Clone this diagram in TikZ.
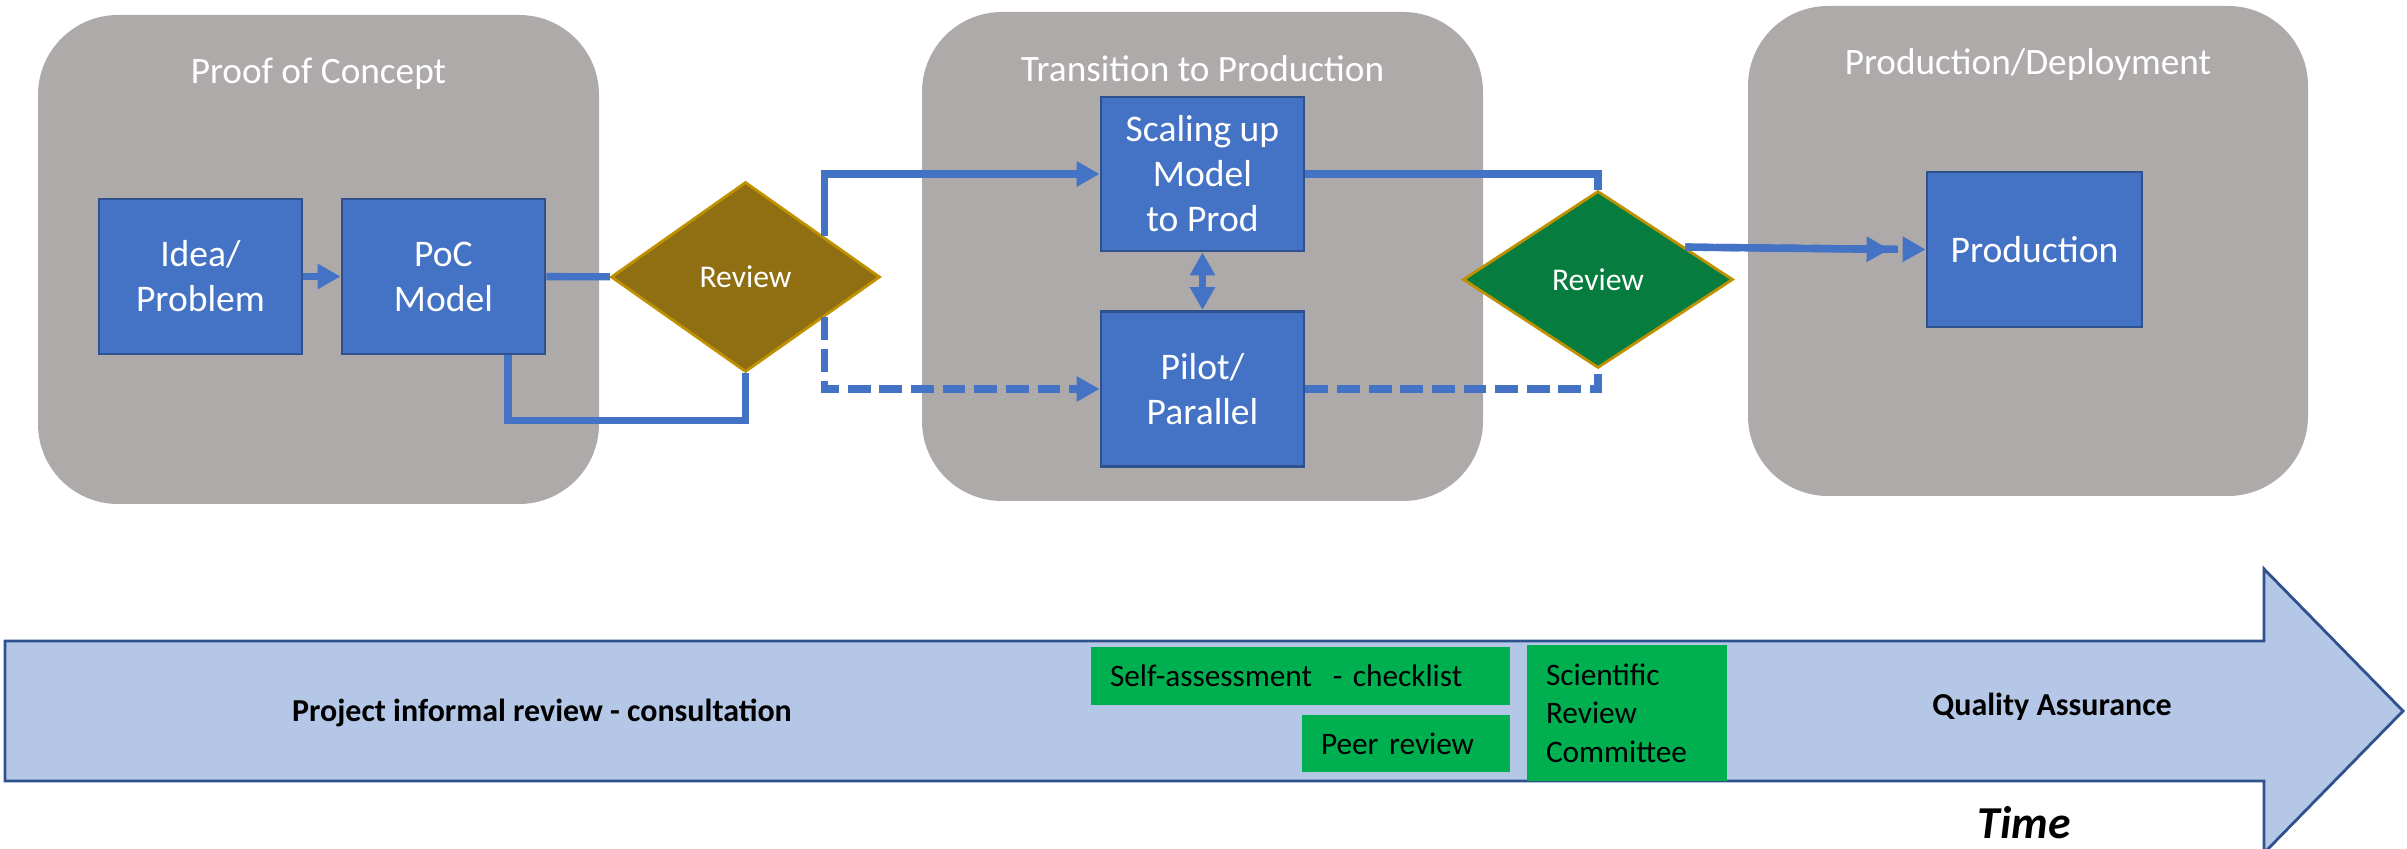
\documentclass[tikz,border=0pt]{standalone}
\usepackage{fontspec}
\setmainfont{Carlito}
\usepackage{tikz}
\usetikzlibrary{positioning,arrows.meta,shapes.geometric,calc}

\definecolor{StageGray}{HTML}{AEAAAA}
\definecolor{BoxBlue}{HTML}{4472C4}
\definecolor{BoxEdge}{HTML}{2F528F}
\definecolor{ReviewBrown}{HTML}{8F6F12}
\definecolor{ReviewGreen}{HTML}{067D3E}
\definecolor{ReviewEdge}{HTML}{BF9000}
\definecolor{TimeBlue}{HTML}{B4C7E7}
\definecolor{QAGreen}{HTML}{00B050}

\tikzset{
    stage/.style={fill=StageGray, rounded corners=0.8cm, minimum width=5.61cm, minimum height=4.89cm},
    stagetitle/.style={text=white, anchor=base, font=\fontsize{10.6}{12.7}\selectfont},
    block/.style={fill=BoxBlue, draw=BoxEdge, line width=0.8pt, text=white, align=center,
                  minimum width=2.03cm, minimum height=1.55cm, font=\fontsize{10.7}{12.8}\selectfont},
    review/.style={diamond, draw=ReviewEdge, line width=0.8pt, text=white, inner sep=0pt,
                   font=\fontsize{9}{11}\selectfont},
    link/.style={draw=BoxBlue, line width=2.1pt},
    flow/.style={link, -{Triangle[length=2.3mm,width=2.4mm]}},
    both/.style={link, {Triangle[length=2.3mm,width=2.4mm]}-{Triangle[length=2.3mm,width=2.4mm]}},
    dashline/.style={dash pattern=on 6.5pt off 2.5pt},
    timeline/.style={fill=TimeBlue, draw=BoxEdge, line width=0.8pt},
    check/.style={fill=QAGreen, inner xsep=0.19cm, inner ysep=0pt, align=left, minimum height=0.58cm,
                  font=\fontsize{8.9}{10.9}\selectfont},
    boldtext/.style={font=\fontsize{9.1}{11}\selectfont\bfseries}
}

\begin{document}
\begin{tikzpicture}
                \useasboundingbox (0,0) rectangle (24.07,8.49);

                \node[stage] (S1) at (3.185,5.895)  {};
                \node[stage] (S2) at (12.025,5.925) {};
                \node[stage, minimum width=5.60cm, minimum height=4.90cm] (S3) at (20.28,5.98) {};

                \node[stagetitle] (T1) at ([yshift=-0.69cm]S1.north) {Proof of Concept};
                \node[stagetitle] (T2) at ([yshift=-0.70cm]S2.north) {Transition to Production};
                \node[stagetitle] (T3) at ([yshift=-0.69cm]S3.north) {Production/Deployment};

                \node[block] (idea)  at (2.005,5.725)  {Idea/\\Problem};
                \node[block] (poc)   at (4.435,5.725)  {PoC\\Model};
                \node[block, minimum height=1.54cm] (scale) at (12.025,6.75) {Scaling up\\Model\\to Prod};
                \node[block] (pilot) at (12.025,4.60)  {Pilot/\\Parallel};
                \node[block, minimum width=2.15cm] (prod) at (20.345,5.995) {Production};

                \node[review, fill=ReviewBrown, minimum width=2.69cm, minimum height=1.90cm] (rev1) at (7.455,5.72) {Review};
                \node[review, fill=ReviewGreen, minimum width=2.70cm, minimum height=1.77cm] (rev2) at (15.98,5.695) {Review};

                \draw[flow] (idea) -- (poc);
                \draw[link] (poc) -- (rev1);
                \draw[link] (rev1.south) -- ++(0,-0.47) -| ([xshift=0.645cm]poc.south);
                \draw[flow] ($(rev1.east)!0.42!(rev1.north)$) |- (scale);
                \draw[flow, dashline] ($(rev1.east)!0.42!(rev1.south)$) |- (pilot);
                \draw[both] (scale) -- (pilot);
                \draw[link] (scale) -| (rev2);
                \draw[link, dashline] (pilot) -| (rev2);
                \draw[flow, dashline] ($(rev2.east)!0.36!(rev2.north)$) -- (prod.west);
                \draw[flow] ($(rev2.east)!0.36!(rev2.north)$) -- ([xshift=-3.6mm]prod.west);

                \draw[timeline] (0.05,2.08) -- (22.64,2.08) -- (22.64,2.80) -- (24.03,1.38)
                                -- (22.64,-0.04) -- (22.64,0.68) -- (0.05,0.68) -- cycle;

                \node[boldtext] (informal) at (5.42,1.36) {Project informal review - consultation};
                \node[check, text width=3.81cm] (self) at (13.005,1.73) {Self-assessment\ \ - checklist};
                \node[check, text width=1.70cm, minimum height=0.57cm] (peer) at (14.06,1.055) {Peer review};
                \node[check, text width=1.62cm, minimum height=1.36cm] (src) at (16.27,1.36) {Scientific\\Review\\Committee};
                \node[boldtext] (qa) at (20.52,1.42) {Quality Assurance};
                \node[font=\fontsize{13}{15}\selectfont\bfseries\itshape, inner sep=1pt] (time) at (20.24,0.26) {Time};
\end{tikzpicture}
\end{document}
